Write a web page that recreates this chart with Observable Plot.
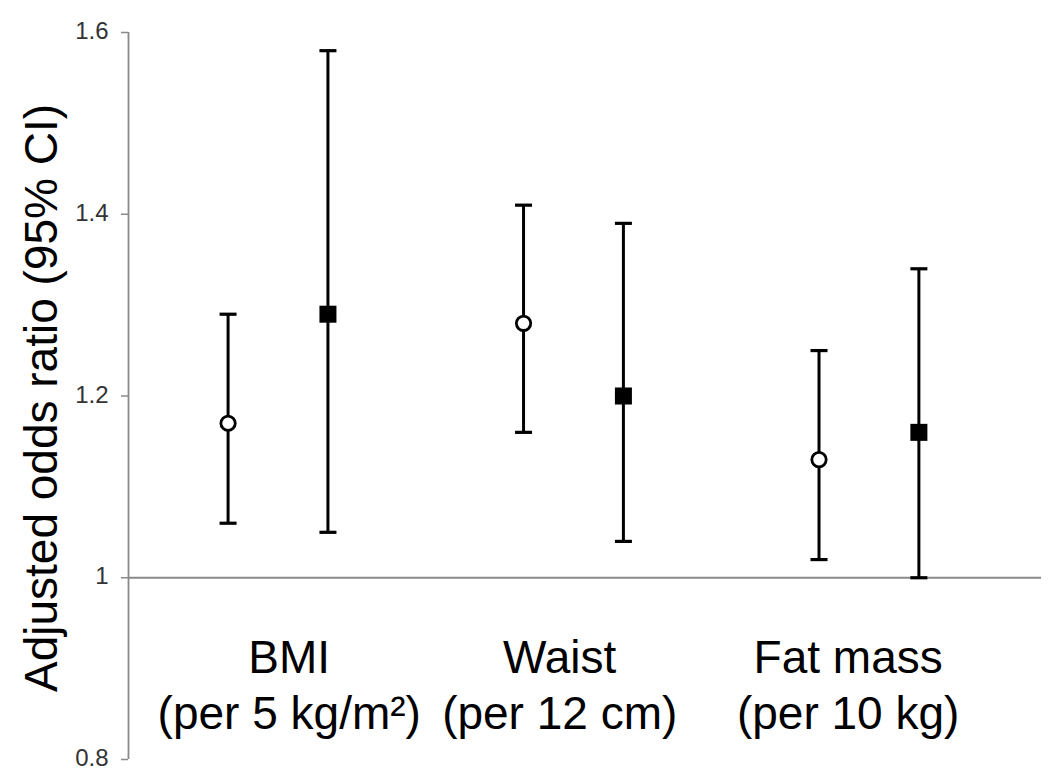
<!DOCTYPE html>
<html>
<head>
<meta charset="utf-8">
<script src="https://cdn.jsdelivr.net/npm/d3@7"></script>
<script src="https://cdn.jsdelivr.net/npm/@observablehq/plot@0.6"></script>
<style>
  body { margin: 0; background: #fff; }
  #chart svg { display: block; }
</style>
</head>
<body>
<div id="chart"></div>
<script>
// ---- Data ----
const categories = ["BMI", "Waist", "Fat mass"];
const categoryUnits = ["(per 5 kg/m²)", "(per 12 cm)", "(per 10 kg)"];
const series = ["open", "filled"];
// odds ratios and 95% CI per series, one value per category
const openOR    = [1.17, 1.28, 1.13];
const openLow   = [1.06, 1.16, 1.02];
const openHigh  = [1.29, 1.41, 1.25];
const filledOR   = [1.29, 1.20, 1.16];
const filledLow  = [1.05, 1.04, 1.00];
const filledHigh = [1.58, 1.39, 1.34];
const yTicks = [0.8, 1, 1.2, 1.4, 1.6];
const yLabel = "Adjusted odds ratio (95% CI)";

// ---- Build table ----
const seriesOffset = {open: -0.163, filled: 0.175};
const rows = [];
categories.forEach((c, i) => {
  rows.push({cat: c, series: "open", x: i + seriesOffset.open, or: openOR[i], lo: openLow[i], hi: openHigh[i]});
  rows.push({cat: c, series: "filled", x: i + seriesOffset.filled, or: filledOR[i], lo: filledLow[i], hi: filledHigh[i]});
});
const labelRows = categories.map((c, i) => ({x: i, text: c + "\n" + categoryUnits[i]}));
const labelDx = [13, -12, -19];

// horizontal cap symbol
const capSymbol = {
  draw(context, size) {
    const w = Math.sqrt(size) / 2;
    context.moveTo(-w, 0);
    context.lineTo(w, 0);
  }
};

const font = "Liberation Sans, Arial, Helvetica, sans-serif";

const chart = Plot.plot({
  width: 1050,
  height: 778,
  marginLeft: 128,
  marginRight: 9,
  marginTop: 32,
  marginBottom: 19,
  style: {fontFamily: font, background: "#fff", overflow: "visible"},
  x: {domain: [-0.5, 2.59], axis: null},
  y: {domain: [0.8, 1.6], axis: null},
  marks: [
    // y axis tick marks
    Plot.axisY({ticks: yTicks, tickSize: 7, tickFormat: () => "", stroke: "#8a8a8a", strokeWidth: 1.5, label: null}),
    // y tick labels
    Plot.text(yTicks, {y: d => d, text: d => String(d), frameAnchor: "left", textAnchor: "end",
      dx: -20, dy: -1, fontSize: 24, fill: "#333"}),
    // y axis line
    Plot.ruleX([-0.5], {y1: 0.8, y2: 1.6, stroke: "#8a8a8a", strokeWidth: 1.8}),
    // reference line at 1
    Plot.ruleY([1], {stroke: "#8a8a8a", strokeWidth: 1.8}),
    // error bars
    Plot.ruleX(rows, {x: "x", y1: "lo", y2: "hi", stroke: "#000", strokeWidth: 3}),
    Plot.dot(rows, {x: "x", y: "lo", symbol: capSymbol, r: 9.6, stroke: "#000", strokeWidth: 3.2, fill: "none"}),
    Plot.dot(rows, {x: "x", y: "hi", symbol: capSymbol, r: 9.6, stroke: "#000", strokeWidth: 3.2, fill: "none"}),
    // points
    Plot.dot(rows.filter(d => d.series === "open"), {x: "x", y: "or", r: 7.2, fill: "#fff", stroke: "#000", strokeWidth: 2.8}),
    Plot.dot(rows.filter(d => d.series === "filled"), {x: "x", y: "or", symbol: "square", r: 9.6, fill: "#000", stroke: "none"}),
    // category labels
    ...labelRows.map((d, i) => Plot.text([d], {x: "x", text: "text", frameAnchor: "bottom",
      lineAnchor: "bottom", lineHeight: 1.2, dx: labelDx[i], dy: -31, fontSize: 46, fill: "#000"})),
    // y label
    Plot.text([yLabel], {frameAnchor: "left", textAnchor: "middle", rotate: -90, dx: -86, dy: 2,
      fontSize: 46, fill: "#000", text: d => d})
  ]
});

document.getElementById("chart").appendChild(chart);
</script>
</body>
</html>
